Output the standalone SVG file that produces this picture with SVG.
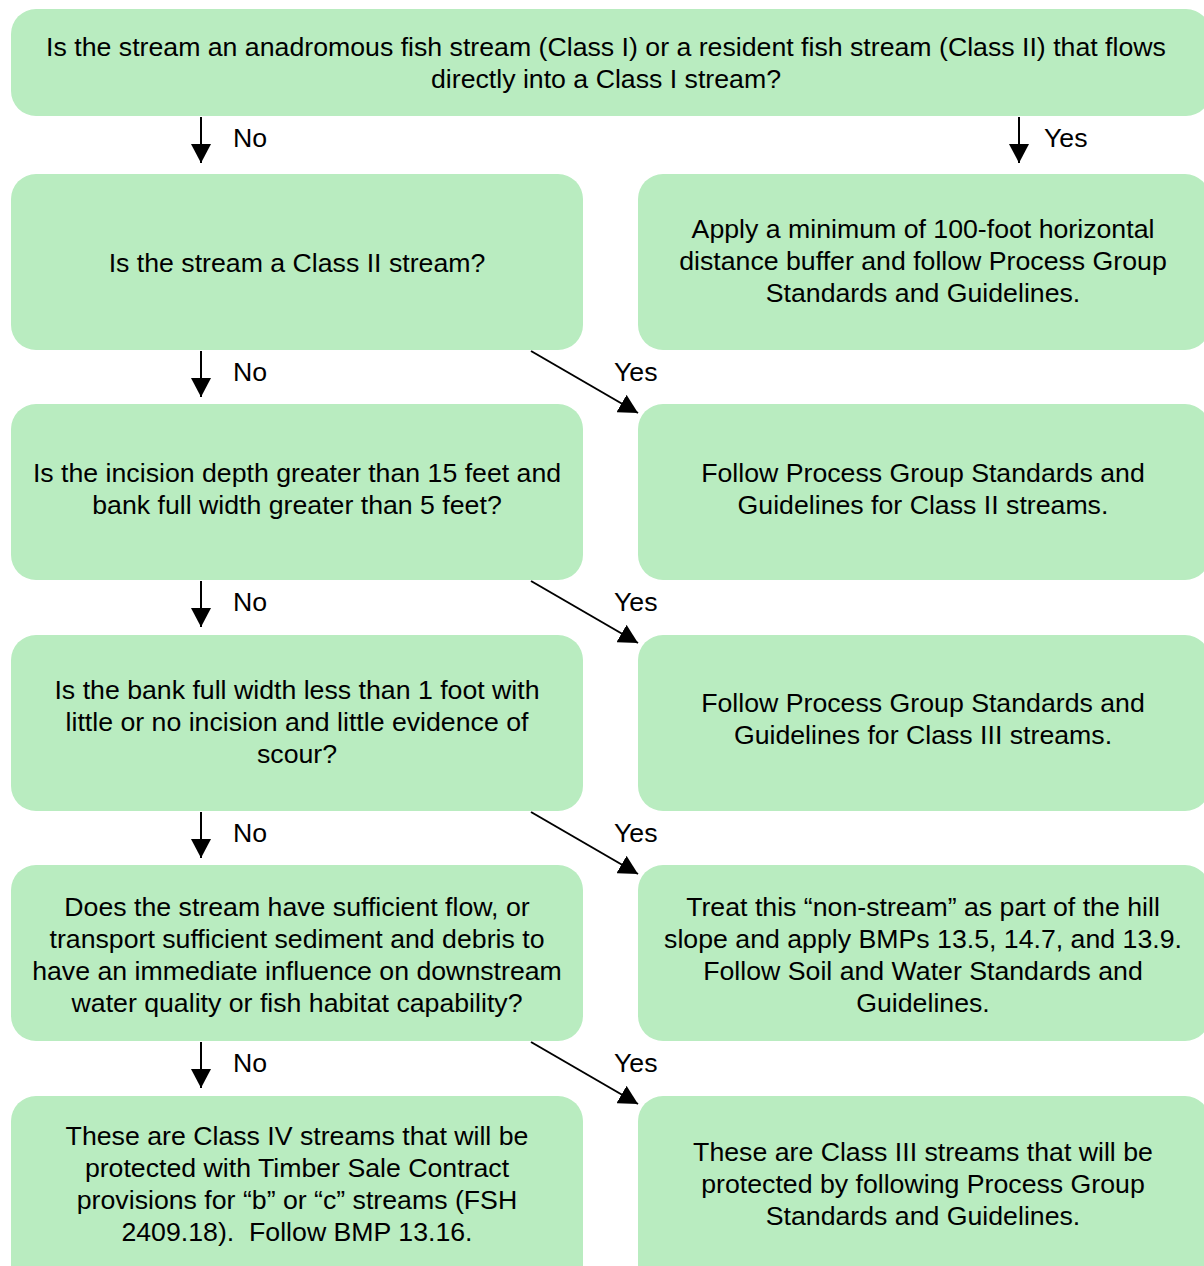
<svg xmlns="http://www.w3.org/2000/svg" width="1204" height="1266" viewBox="0 0 1204 1266">
<style>
.box{fill:#b9ecc0}
text{font-family:"Liberation Sans",Arial,sans-serif;font-size:26.7px;fill:#000;white-space:pre}
.c{text-anchor:middle}
.ln{stroke:#000;stroke-width:2;fill:none}
</style>
<defs>
<marker id="ah2" viewBox="0 0 19 20" refX="19" refY="10" markerWidth="19" markerHeight="20" markerUnits="userSpaceOnUse" orient="auto">
<path d="M0,0 L19,10 L0,20 Z" fill="#000"/>
</marker>
</defs>
<rect width="1204" height="1266" fill="#fff"/>
<g id="n0"><rect class="box" x="11" y="9" width="1200" height="107" rx="25"/>
<text class="c" x="606" y="56">Is the stream an anadromous fish stream (Class I) or a resident fish stream (Class II) that flows</text>
<text class="c" x="606" y="88">directly into a Class I stream?</text></g>
<g id="n1"><rect class="box" x="11" y="174" width="572" height="176" rx="25"/>
<text class="c" x="297" y="272">Is the stream a Class II stream?</text></g>
<g id="n2"><rect class="box" x="638" y="174" width="572" height="176" rx="25"/>
<text class="c" x="923" y="238">Apply a minimum of 100-foot horizontal</text>
<text class="c" x="923" y="270">distance buffer and follow Process Group</text>
<text class="c" x="923" y="302">Standards and Guidelines.</text></g>
<g id="n3"><rect class="box" x="11" y="404" width="572" height="176" rx="25"/>
<text class="c" x="297" y="482">Is the incision depth greater than 15 feet and</text>
<text class="c" x="297" y="514">bank full width greater than 5 feet?</text></g>
<g id="n4"><rect class="box" x="638" y="404" width="572" height="176" rx="25"/>
<text class="c" x="923" y="482">Follow Process Group Standards and</text>
<text class="c" x="923" y="514">Guidelines for Class II streams.</text></g>
<g id="n5"><rect class="box" x="11" y="635" width="572" height="176" rx="25"/>
<text class="c" x="297" y="699">Is the bank full width less than 1 foot with</text>
<text class="c" x="297" y="731">little or no incision and little evidence of</text>
<text class="c" x="297" y="763">scour?</text></g>
<g id="n6"><rect class="box" x="638" y="635" width="572" height="176" rx="25"/>
<text class="c" x="923" y="712">Follow Process Group Standards and</text>
<text class="c" x="923" y="744">Guidelines for Class III streams.</text></g>
<g id="n7"><rect class="box" x="11" y="865" width="572" height="176" rx="25"/>
<text class="c" x="297" y="916">Does the stream have sufficient flow, or</text>
<text class="c" x="297" y="948">transport sufficient sediment and debris to</text>
<text class="c" x="297" y="980">have an immediate influence on downstream</text>
<text class="c" x="297" y="1012">water quality or fish habitat capability?</text></g>
<g id="n8"><rect class="box" x="638" y="865" width="572" height="176" rx="25"/>
<text class="c" x="923" y="916">Treat this “non-stream” as part of the hill</text>
<text class="c" x="923" y="948">slope and apply BMPs 13.5, 14.7, and 13.9.</text>
<text class="c" x="923" y="980">Follow Soil and Water Standards and</text>
<text class="c" x="923" y="1012">Guidelines.</text></g>
<g id="n9"><rect class="box" x="11" y="1096" width="572" height="200" rx="25"/>
<text class="c" x="297" y="1145">These are Class IV streams that will be</text>
<text class="c" x="297" y="1177">protected with Timber Sale Contract</text>
<text class="c" x="297" y="1209">provisions for “b” or “c” streams (FSH</text>
<text class="c" x="297" y="1241">2409.18).  Follow BMP 13.16.</text></g>
<g id="n10"><rect class="box" x="638" y="1096" width="572" height="200" rx="25"/>
<text class="c" x="923" y="1161">These are Class III streams that will be</text>
<text class="c" x="923" y="1193">protected by following Process Group</text>
<text class="c" x="923" y="1225">Standards and Guidelines.</text></g>
<g id="connectors">
<path class="ln" d="M201,117 V163" marker-end="url(#ah2)"/>
<path class="ln" d="M1019,117 V163" marker-end="url(#ah2)"/>
<path class="ln" d="M201,351 V397" marker-end="url(#ah2)"/>
<path class="ln" d="M201,581 V627" marker-end="url(#ah2)"/>
<path class="ln" d="M201,812 V858" marker-end="url(#ah2)"/>
<path class="ln" d="M201,1042 V1088" marker-end="url(#ah2)"/>
<path class="ln" d="M531,351 L638,413" marker-end="url(#ah2)"/>
<path class="ln" d="M531,581 L638,643" marker-end="url(#ah2)"/>
<path class="ln" d="M531,812 L638,874" marker-end="url(#ah2)"/>
<path class="ln" d="M531,1042 L638,1104" marker-end="url(#ah2)"/>
<text x="233" y="147">No</text>
<text x="1044" y="147">Yes</text>
<text x="233" y="381">No</text>
<text x="614" y="381">Yes</text>
<text x="233" y="611">No</text>
<text x="614" y="611">Yes</text>
<text x="233" y="842">No</text>
<text x="614" y="842">Yes</text>
<text x="233" y="1072">No</text>
<text x="614" y="1072">Yes</text>
</g>
</svg>
